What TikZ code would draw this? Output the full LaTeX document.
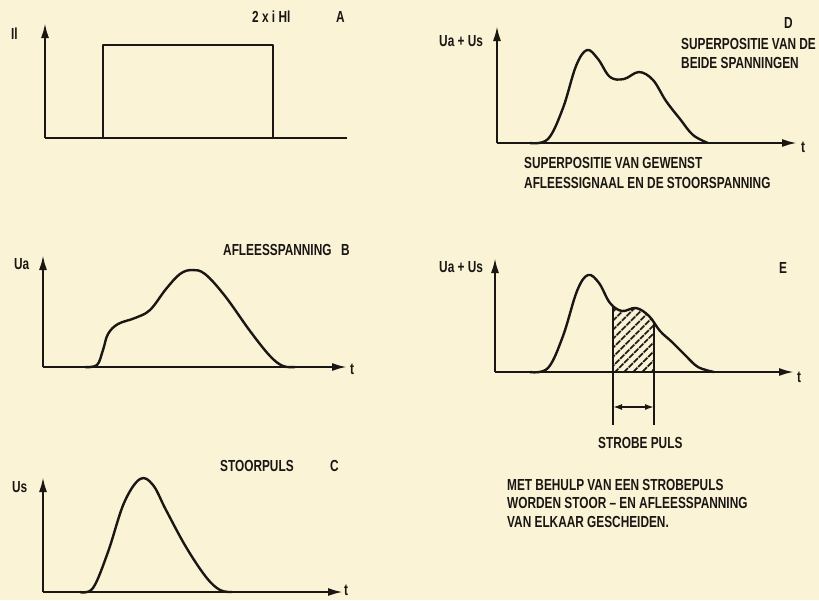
\documentclass[tikz,border=0pt]{standalone}
\usepackage{fontspec}
\setmainfont{Liberation Sans}[FakeStretch=0.74]
\usetikzlibrary{arrows.meta,patterns.meta}
\definecolor{papier}{RGB}{250,243,214}
\definecolor{inkt}{RGB}{25,22,20}
\tikzset{
  as/.style={line width=2.2pt, inkt},
  pijl/.style={as, -{Latex[length=15pt,width=8pt]}},
  golf/.style={line width=2.4pt, inkt, line join=round},
  lbl/.style={font=\bfseries\fontsize{16}{19}\selectfont, inkt, inner sep=0pt},
}
\begin{document}
\begin{tikzpicture}[x=1pt, y=-1pt]
	\fill[papier] (0,0) rectangle (819,600);
	\useasboundingbox (0,0) rectangle (819,600);
	
	% === A: stroompuls ===
	\coordinate (oA) at (45,138);
	\draw[pijl] (oA) -- (45,23);
	\draw[as] (oA) -- (347,138);
	\draw[golf] (103,138) -- (103,45) -- (273,45) -- (273,138);
	\node[lbl, anchor=west] (yA) at (11,34) {Il};
	\node[lbl, anchor=west] (tA) at (252,17) {2 x i Hl};
	\node[lbl, anchor=west] (nA) at (336,17) {A};
	
	% === B: afleesspanning ===
	\coordinate (oB) at (43,367);
	\draw[pijl] (oB) -- (43,255);
	\draw[pijl] (oB) -- (347,367);
	\node[lbl, anchor=west] (xB) at (350,369) {t};
	\draw[golf] plot[smooth, tension=0.6] coordinates {(85,367) (97,365) (103,350) (108,334) (118,324) (135,318) (150,310) (166,289) (180,274) (192,270) (205,274) (225,296) (250,331) (270,356) (283,366) (295,367)};
	\node[lbl, anchor=west] (yB) at (14,264) {Ua};
	\node[lbl, anchor=west] (tB) at (223,250) {AFLEESSPANNING};
	\node[lbl, anchor=west] (nB) at (341,250) {B};
	
	% === C: stoorpuls ===
	\coordinate (oC) at (43,592);
	\draw[pijl] (oC) -- (43,477);
	\draw[pijl] (oC) -- (343,592);
	\node[lbl, anchor=west] (xC) at (344,590) {t};
	\draw[golf] plot[smooth, tension=0.6] coordinates {(80,592) (93,588) (108,552) (124,503) (140,479) (153,485) (166,510) (186,547) (206,577) (220,590) (232,592)};
	\node[lbl, anchor=west] (yC) at (12,487) {Us};
	\node[lbl, anchor=west] (tC) at (220,466) {STOORPULS};
	\node[lbl, anchor=west] (nC) at (330,466) {C};
	
	% === D: superpositie ===
	\coordinate (oD) at (497,143);
	\draw[pijl] (oD) -- (497,26);
	\draw[pijl] (oD) -- (797,143);
	\node[lbl, anchor=west] (xD) at (801,147) {t};
	\draw[golf] plot[smooth, tension=0.6] coordinates {(530,143) (548,139) (563,108) (576,66) (587,50) (598,59) (610,77) (624,79) (639,72) (653,80) (666,101) (680,119) (693,135) (708,143)};
	\node[lbl, anchor=west] (yD) at (439,41) {Ua + Us};
	\node[lbl, anchor=west] (nD) at (784,23) {D};
	\node[lbl, anchor=west] (tD1) at (681,44) {SUPERPOSITIE VAN DE};
	\node[lbl, anchor=west] (tD2) at (681,63) {BEIDE SPANNINGEN};
	\node[lbl, anchor=west] (tD3) at (524,163) {SUPERPOSITIE VAN GEWENST};
	\node[lbl, anchor=west] (tD4) at (524,183) {AFLEESSIGNAAL EN DE STOORSPANNING};
	
	% === E: met strobepuls ===
	\coordinate (oE) at (495,372);
	\draw[pijl] (oE) -- (495,258);
	\draw[pijl] (oE) -- (794,372);
	\node[lbl, anchor=west] (xE) at (797,377) {t};
	\begin{scope}
		\clip plot[smooth, tension=0.6] coordinates {(530,372) (548,368) (563,336) (577,291) (588,275) (599,283) (610,303) (622,311) (636,308) (649,316) (660,331) (672,342) (685,355) (698,367) (714,372)} -- cycle;
		\fill[pattern={Lines[angle=45, distance=6.5pt, line width=2pt]}, pattern color=inkt] (613,250) rectangle (654,372);
		\draw[golf] (613,250) -- (613,372) (654,250) -- (654,372);
	\end{scope}
	\draw[golf] plot[smooth, tension=0.6] coordinates {(530,372) (548,368) (563,336) (577,291) (588,275) (599,283) (610,303) (622,311) (636,308) (649,316) (660,331) (672,342) (685,355) (698,367) (714,372)};
	\coordinate (s1) at (613,372);
	\coordinate (s2) at (654,372);
	\draw[line width=1.6pt, inkt] (s1) -- (613,425) (s2) -- (654,425);
	\draw[line width=1.6pt, inkt, {Latex[length=9pt,width=6pt]}-{Latex[length=9pt,width=6pt]}] (613,407) -- (654,407);
	\node[lbl, anchor=west] (sE) at (598,443) {STROBE PULS};
	\node[lbl, anchor=west] (yE) at (439,267) {Ua + Us};
	\node[lbl, anchor=west] (nE) at (779,268) {E};
	
	% tekst onder E
	\node[lbl, anchor=north west, align=left, font=\bfseries\fontsize{16}{18.5}\selectfont] (uitleg) at (507,479) {MET BEHULP VAN EEN STROBEPULS\\WORDEN STOOR -- EN AFLEESSPANNING\\VAN ELKAAR GESCHEIDEN.};
\end{tikzpicture}
\end{document}
